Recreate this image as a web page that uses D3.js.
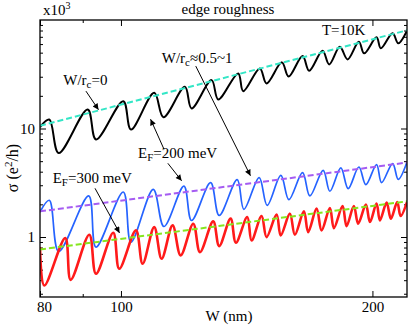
<!DOCTYPE html>
<html>
<head>
<meta charset="utf-8">
<script src="https://cdn.jsdelivr.net/npm/d3@7/dist/d3.min.js"></script>
<style>
  body { margin: 0; background: #fff; }
  svg text { font-family: 'Liberation Serif', 'DejaVu Serif', serif !important; fill: #000; }
</style>
</head>
<body>
<div id="chart"></div>
<script>
// conductance (x10^3 e^2/h) vs ribbon width W (nm)
var blackCurve = [[80.0,10.28],[82.07,12.11],[84.23,5.95],[91.24,14.98],[93.35,7.91],[100.64,17.87],[102.80,9.79],
	[109.60,21.32],[112.43,12.72],[119.27,24.22],[121.49,15.30],[128.38,27.92],[130.74,18.52],[138.15,32.20],
	[140.06,22.10],[146.65,35.81],[149.38,26.03],[155.82,40.69],[158.73,30.08],[164.97,46.51],[168.00,34.03],
	[174.32,52.06],[177.52,38.99],[182.83,56.68],[186.75,43.36],[192.67,63.04],[195.50,49.27],[202.29,69.23],
	[204.70,54.79],[211.46,75.41],[214.75,60.93],[220,79.62]];

var blueCurve = [[80.0,1.70],[82.07,2.18],[84.23,0.736],[91.48,2.39],[93.35,0.807],[100.64,2.60],[102.80,0.897],
	[109.31,2.75],[112.58,1.25],[118.95,2.95],[121.49,1.42],[128.03,3.17],[131.10,1.58],[137.77,3.38],
	[140.34,1.80],[146.37,3.53],[149.63,1.96],[155.39,3.70],[158.86,2.21],[164.97,3.92],[168.33,2.39],
	[174.61,4.12],[177.87,2.64],[183.33,4.33],[187.06,2.79],[192.67,4.42],[196.42,3.04],[202.29,4.65],
	[205.10,3.17],[211.46,4.75],[214.75,3.40],[220,4.92]];

var redCurve = [[80.0,0.807],[80.95,0.357],[85.77,0.977],[87.06,0.403],[91.64,1.050],[93.35,0.458],[97.90,1.096],
	[99.53,0.510],[104.22,1.151],[106.16,0.567],[109.60,1.234],[111.86,0.630],[115.30,1.280],[117.89,0.676],
	[122.05,1.327],[124.33,0.725],[128.96,1.393],[131.10,0.824],[135.29,1.476],[137.28,0.886],[141.64,1.527],
	[143.36,0.930],[147.34,1.560],[149.38,0.998],[153.56,1.607],[155.32,1.035],[159.30,1.641],[161.51,1.050],
	[165.57,1.723],[167.54,1.110],[171.46,1.825],[173.85,1.151],[177.87,1.849],[179.84,1.208],[184.20,1.929],
	[186.24,1.261],[190.03,1.929],[192.29,1.327],[196.42,1.987],[198.65,1.373],[202.29,2.030],[204.17,1.423],
	[207.97,2.073],[210.45,1.476],[214.16,2.100],[216.17,1.560],[220,2.100]];

// power-law guide lines
var cyanLine = [[80,10.61],[220,80.35]];
var purpleLine = [[80,1.723],[220,4.855]];
var greenLine = [[80,0.768],[220,2.132]];

// ticks
var xMajorTicks = [80, 100, 200];
var xMinorTicks = [90];
var yMajorTicks = [1, 10];
var yMinorTicks = [0.3,0.4,0.5,0.6,0.7,0.8,0.9,2,3,4,5,6,7,8,9,20,30,40,50,60,70,80,90];

var serif = "'Liberation Serif', 'DejaVu Serif', serif";
var width = 408, height = 327;
var margin = {left: 40, right: 1, top: 20, bottom: 30};

var svg = d3.select("#chart").append("svg")
	.attr("width", width)
	.attr("height", height)
	.attr("font-family", serif);

var x = d3.scaleLog().domain([80, 220]).range([margin.left, width - margin.right]);
var y = d3.scaleLog().domain([0.28, 100]).range([height - margin.bottom, margin.top]);

var x0 = x.range()[0], x1 = x.range()[1];
var y0 = y.range()[1], y1 = y.range()[0];

svg.append("defs").append("clipPath").attr("id", "plotclip")
	.append("rect").attr("x", x0).attr("y", y0).attr("width", x1 - x0).attr("height", y1 - y0);

var marker = svg.select("defs").append("marker")
	.attr("id", "arrow")
	.attr("viewBox", "0 0 10 10")
	.attr("refX", 10).attr("refY", 5)
	.attr("markerWidth", 9).attr("markerHeight", 6)
	.attr("markerUnits", "userSpaceOnUse")
	.attr("orient", "auto");
marker.append("path").attr("d", "M0,0 L10,5 L0,10 z").attr("fill", "#000");

//axes: ticks drawn inward, mirrored on top/right
function addAxis(axisFn, values, size, transform, labels){
	var ax = axisFn.tickValues(values).tickSize(-size).tickPadding(labels ? 4 : 0);
	if(!labels){ ax.tickFormat(""); }
	else { ax.tickFormat(d3.format("d")); }
	var g = svg.append("g").attr("transform", transform).call(ax);
	g.attr("font-family", serif).attr("font-size", 15);
	g.select(".domain").remove();
	g.selectAll("line").attr("stroke", "#000").attr("stroke-width", 1);
	return g;
}

var gxb = addAxis(d3.axisBottom(x), xMajorTicks, 6, "translate(0," + y1 + ")", true);
gxb.selectAll("text").filter(function(d){ return d === 80; }).attr("dx", 4);
addAxis(d3.axisBottom(x), xMinorTicks, 3, "translate(0," + y1 + ")", false);
addAxis(d3.axisTop(x), xMajorTicks, 6, "translate(0," + y0 + ")", false);
addAxis(d3.axisTop(x), xMinorTicks, 3, "translate(0," + y0 + ")", false);

var gyl = addAxis(d3.axisLeft(y), yMajorTicks, 6, "translate(" + x0 + ",0)", true);
gyl.selectAll("text").attr("dx", -1);
addAxis(d3.axisLeft(y), yMinorTicks, 3, "translate(" + x0 + ",0)", false);
addAxis(d3.axisRight(y), yMajorTicks, 6, "translate(" + x1 + ",0)", false);
addAxis(d3.axisRight(y), yMinorTicks, 3, "translate(" + x1 + ",0)", false);

//curves
var line = d3.line()
	.x(function(d){ return x(d[0]); })
	.y(function(d){ return y(d[1]); })
	.curve(d3.curveCatmullRom.alpha(0.5));

var plot = svg.append("g").attr("clip-path", "url(#plotclip)");

plot.append("path").datum(blackCurve).attr("d", line)
	.attr("fill", "none").attr("stroke", "#000").attr("stroke-width", 2);
plot.append("path").datum(blueCurve).attr("d", line)
	.attr("fill", "none").attr("stroke", "#2563ff").attr("stroke-width", 1.7);
plot.append("path").datum(redCurve).attr("d", line)
	.attr("fill", "none").attr("stroke", "#ff1a1a").attr("stroke-width", 2.6);

var straight = d3.line()
	.x(function(d){ return x(d[0]); })
	.y(function(d){ return y(d[1]); });

plot.append("path").datum(cyanLine).attr("d", straight)
	.attr("fill", "none").attr("stroke", "#33e6c6").attr("stroke-width", 2).attr("stroke-dasharray", "6,3");
plot.append("path").datum(purpleLine).attr("d", straight)
	.attr("fill", "none").attr("stroke", "#a55cf2").attr("stroke-width", 2).attr("stroke-dasharray", "6,3");
plot.append("path").datum(greenLine).attr("d", straight)
	.attr("fill", "none").attr("stroke", "#86e61e").attr("stroke-width", 2).attr("stroke-dasharray", "6,3");

//frame
svg.append("rect")
	.attr("x", x0).attr("y", y0)
	.attr("width", x1 - x0).attr("height", y1 - y0)
	.attr("fill", "none").attr("stroke", "#000").attr("stroke-width", 1.3);

//annotations (data coordinates)
function label(w, s, parts){
	var t = svg.append("text")
		.attr("x", x(w)).attr("y", y(s))
		.attr("font-size", 15);
	parts.forEach(function(p){
		var ts = t.append("tspan").text(p[0]);
		if(p[1] === "sub"){ ts.attr("dy", 3).attr("font-size", 11); }
		if(p[1] === "back"){ ts.attr("dy", -3); }
	});
	return t;
}

label(85.3, 25.1, [["W/r"], ["c", "sub"], ["=0", "back"]]);
label(111.9, 40.1, [["W/r"], ["c", "sub"], ["\u22480.5~1", "back"]]);
label(104.8, 5.32, [["E"], ["F", "sub"], ["=200 meV", "back"]]);
label(82.85, 3.126, [["E"], ["F", "sub"], ["=300 meV", "back"]]);
label(174.0, 72.7, [["T=10K"]]);

var arrows = [
	[[90.8, 22.1], [94.0, 14.9]],
	[[122.9, 37.6], [142.9, 3.67]],
	[[112.6, 6.44], [108.5, 12.19]],
	[[113.8, 4.78], [118.2, 3.30]],
	[[93.1, 2.81], [99.6, 1.091]]
];
svg.append("g").selectAll("line").data(arrows).enter().append("line")
	.attr("x1", function(d){ return x(d[0][0]); })
	.attr("y1", function(d){ return y(d[0][1]); })
	.attr("x2", function(d){ return x(d[1][0]); })
	.attr("y2", function(d){ return y(d[1][1]); })
	.attr("stroke", "#000").attr("stroke-width", 1)
	.attr("marker-end", "url(#arrow)");

//titles
svg.append("text").attr("x", 228).attr("y", 14).attr("text-anchor", "middle")
	.attr("font-size", 15).text("edge roughness");

var mult = svg.append("text").attr("x", 43).attr("y", 15).attr("font-size", 15);
mult.append("tspan").text("x10");
mult.append("tspan").attr("dy", -6).attr("font-size", 10).text("3");

svg.append("text").attr("x", 229).attr("y", 321).attr("text-anchor", "middle")
	.attr("font-size", 15).text("W (nm)");

var ylab = svg.append("text")
	.attr("transform", "translate(18,168) rotate(-90)")
	.attr("text-anchor", "middle")
	.attr("font-size", 16);
ylab.append("tspan").text("\u03c3 (e");
ylab.append("tspan").attr("dy", -6).attr("font-size", 11).text("2");
ylab.append("tspan").attr("dy", 6).text("/h)");
</script>
</body>
</html>
